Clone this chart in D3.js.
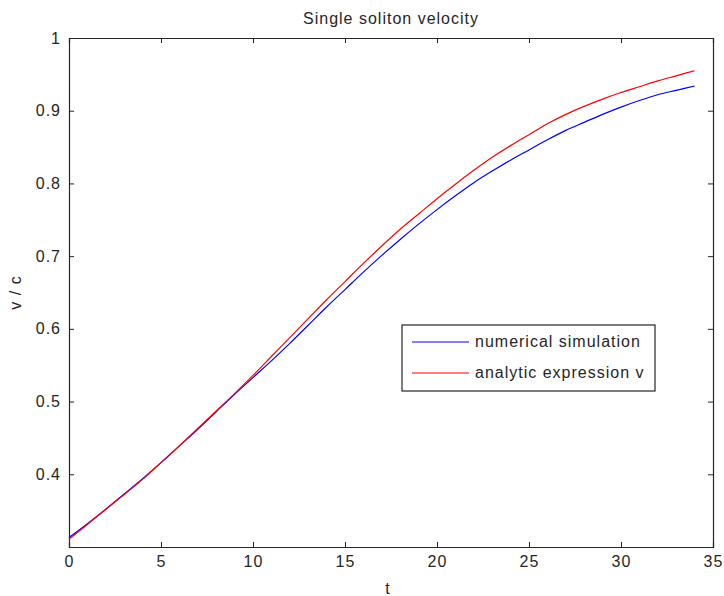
<!DOCTYPE html>
<html>
<head>
<meta charset="utf-8">
<script src="https://cdn.jsdelivr.net/npm/d3@7"></script>
<style>
  body { margin: 0; background: #fff; }
  svg text { font-family: "Liberation Sans", Arial, sans-serif; fill: #262626; letter-spacing: 1px; }
  .axis path, .axis line { stroke: #262626; }
</style>
</head>
<body>
<div class="chart"></div>
<script>
var tValues = [0, 1, 2, 3, 4, 5, 6, 7, 8, 9, 10, 11, 12, 13, 14, 15, 16, 17,
    18, 19, 20, 21, 22, 23, 24, 25, 26, 27, 28, 29, 30, 31, 32, 33, 34];

var numerical = [0.313, 0.332, 0.352, 0.373, 0.394, 0.416, 0.439, 0.462, 0.486, 0.510,
    0.533, 0.556, 0.580, 0.605, 0.630, 0.654, 0.678, 0.701, 0.723, 0.744,
    0.764, 0.783, 0.801, 0.817, 0.832, 0.846, 0.860, 0.873, 0.884, 0.895,
    0.905, 0.914, 0.922, 0.928, 0.934];

var analytic = [0.311, 0.331, 0.352, 0.372, 0.393, 0.416, 0.439, 0.463, 0.487, 0.511,
    0.536, 0.562, 0.588, 0.614, 0.640, 0.665, 0.690, 0.714, 0.737, 0.758,
    0.779, 0.799, 0.818, 0.836, 0.852, 0.867, 0.882, 0.895, 0.906, 0.916,
    0.925, 0.933, 0.941, 0.948, 0.955];

var xTicks = [0, 5, 10, 15, 20, 25, 30, 35];
var yTicks = [0.4, 0.5, 0.6, 0.7, 0.8, 0.9, 1];
var seriesNames = ['numerical simulation', 'analytic expression v'];
var seriesColors = ['#0000ff', '#ff0000'];

var width = 724, height = 596;
var margin = {top: 38, left: 69, right: 11, bottom: 49};

var svg = d3.select('.chart')
    .append('svg')
    .attr('width', width)
    .attr('height', height);

var innerW = width - margin.left - margin.right;
var innerH = height - margin.top - margin.bottom;

var x = d3.scaleLinear().domain([0, 35]).range([0, innerW]);
var y = d3.scaleLinear().domain([0.3, 1]).range([innerH, 0]);

var g = svg.append('g')
    .attr('transform', 'translate(' + margin.left + ',' + margin.top + ')');

// box with inward ticks on all sides
g.append('g').attr('class', 'axis')
    .attr('transform', 'translate(0,' + innerH + ')')
    .call(d3.axisBottom(x).tickValues(xTicks).tickSize(-5).tickPadding(9).tickFormat(d3.format('d')))
    .call(function(a) { a.selectAll('text').attr('font-size', 16); });

g.append('g').attr('class', 'axis')
    .call(d3.axisTop(x).tickValues(xTicks).tickSize(-5).tickFormat(''));

g.append('g').attr('class', 'axis')
    .call(d3.axisLeft(y).tickValues(yTicks).tickSize(-5).tickPadding(8).tickFormat(function(d) { return d === 1 ? '1' : d3.format('.1f')(d) }))
    .call(function(a) { a.selectAll('text').attr('font-size', 16); });

g.append('g').attr('class', 'axis')
    .attr('transform', 'translate(' + innerW + ',0)')
    .call(d3.axisRight(y).tickValues(yTicks).tickSize(-5).tickFormat(''));

g.selectAll('.axis path').attr('stroke-width', 1.2);

var line = d3.line()
    .x(function(d, i) { return x(tValues[i]) })
    .y(function(d) { return y(d) })
    .curve(d3.curveMonotoneX);

[numerical, analytic].forEach(function(s, i) {
    g.append('path')
        .datum(s)
        .attr('fill', 'none')
        .attr('stroke', seriesColors[i])
        .attr('stroke-width', 1.2)
        .attr('d', line);
});

// legend
var legend = svg.append('g').attr('transform', 'translate(402,325)');
legend.append('rect')
    .attr('width', 253).attr('height', 66)
    .attr('fill', '#fff').attr('stroke', '#262626').attr('stroke-width', 1.2);

seriesNames.forEach(function(name, i) {
    var ly = 17 + i * 31;
    legend.append('line')
        .attr('x1', 10).attr('x2', 67)
        .attr('y1', ly).attr('y2', ly)
        .attr('stroke', seriesColors[i]).attr('stroke-width', 1.2);
    legend.append('text')
        .attr('x', 73).attr('y', ly + 5)
        .attr('font-size', 16)
        .text(name);
});

// titles
svg.append('text')
    .attr('x', margin.left + innerW / 2).attr('y', 24)
    .attr('text-anchor', 'middle').attr('font-size', 16)
    .text('Single soliton velocity');

svg.append('text')
    .attr('x', margin.left + innerW / 2 - 3).attr('y', 594)
    .attr('text-anchor', 'middle').attr('font-size', 16)
    .text('t');

svg.append('text')
    .attr('transform', 'translate(21,' + (margin.top + innerH / 2) + ') rotate(-90)')
    .attr('text-anchor', 'middle').attr('font-size', 16)
    .text('v / c');
</script>
</body>
</html>
